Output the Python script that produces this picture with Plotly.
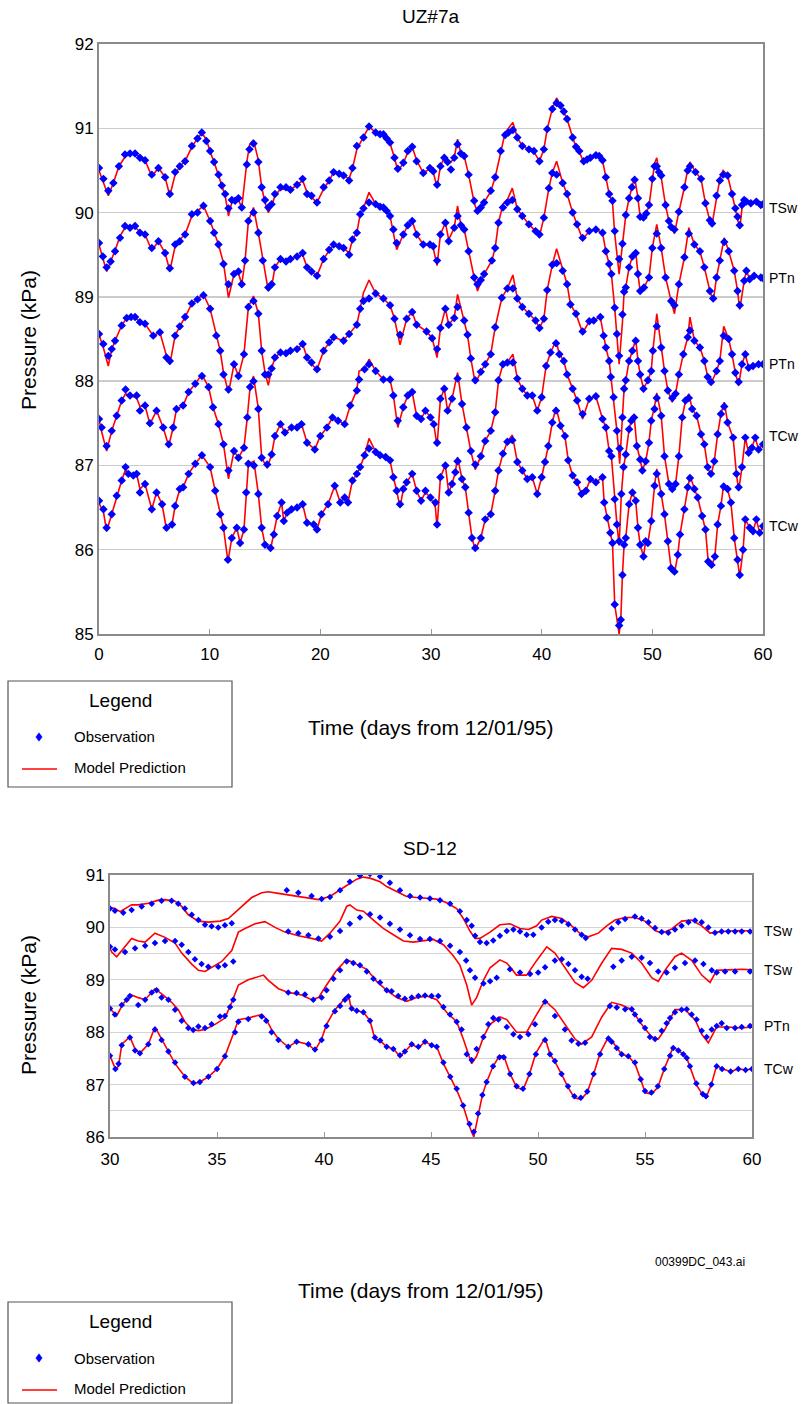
import plotly.graph_objects as go

W, H = 811, 1404
FONT = "Liberation Sans, Arial, sans-serif"

# ================= UZ#7a (top chart) =================
uz_tsw_t = [0.0,0.4,0.84,1.3,1.8,2.35,2.8,3.26,3.7,4.16,4.77,5.37,5.97,6.4,6.88,7.3,7.78,8.39,8.9,9.29,9.7,10.04,10.4,10.8,11.1,11.4,11.7,12.0,12.3,12.6,12.9,13.36,13.6,13.96,14.4,14.7,15.0,15.3,15.6,15.9,16.4,16.9,17.3,17.9,18.4,18.8,19.2,19.7,20.3,20.8,21.2,21.7,22.1,22.6,22.9,23.3,23.9,24.4,25.0,25.4,25.7,26.0,26.3,26.7,27.0,27.5,27.9,28.3,28.7,29.3,29.9,30.2,30.55,30.85,31.2,31.5,31.8,32.1,32.4,32.7,33.0,33.4,33.9,34.2,34.5,34.8,35.4,35.8,36.3,36.7,37.0,37.4,37.8,38.25,38.85,39.3,39.8,40.2,40.5,40.96,41.35,41.7,42.0,42.3,42.8,43.1,43.4,43.8,44.1,44.4,44.9,45.2,45.5,45.8,46.1,46.4,46.6,47.0,47.3,47.6,47.9,48.15,48.4,48.7,48.9,49.2,49.45,49.7,50.0,50.2,50.4,50.6,50.8,51.2,51.5,51.7,52.0,52.4,52.9,53.2,53.4,53.9,54.4,54.8,55.2,55.4,55.8,56.1,56.4,56.8,57.2,57.5,57.7,57.9,58.1,58.3,58.5,58.9,59.4,59.8,60.0]
uz_tsw_obs = [90.53,90.4,90.26,90.35,90.55,90.69,90.7,90.7,90.65,90.62,90.45,90.53,90.42,90.22,90.48,90.55,90.61,90.79,90.88,90.95,90.85,90.73,90.6,90.45,90.32,90.22,90.05,90.15,90.14,90.17,90.06,90.57,90.75,90.82,90.6,90.3,90.15,90.06,90.1,90.22,90.3,90.3,90.27,90.33,90.4,90.22,90.2,90.12,90.3,90.38,90.48,90.46,90.44,90.38,90.53,90.79,90.89,91.02,90.95,90.93,90.93,90.88,90.83,90.65,90.52,90.59,90.73,90.78,90.61,90.47,90.53,90.49,90.33,90.55,90.65,90.6,90.51,90.65,90.81,90.7,90.67,90.45,90.14,90.02,90.06,90.12,90.26,90.42,90.73,90.92,90.95,90.98,90.89,90.79,90.75,90.73,90.61,90.75,90.99,91.23,91.3,91.27,91.2,91.11,90.89,90.78,90.73,90.61,90.63,90.65,90.68,90.67,90.62,90.42,90.22,90.14,89.78,89.45,89.63,89.97,90.17,90.3,90.39,90.17,89.95,89.94,89.99,90.09,90.4,90.55,90.55,90.48,90.44,90.09,89.9,89.83,89.8,90.01,90.3,90.5,90.55,90.48,90.4,90.11,89.91,89.87,90.2,90.38,90.45,90.44,90.22,90.05,89.95,89.85,90.09,90.15,90.13,90.11,90.13,90.09,90.1]
uz_tsw_mod = [90.5,90.35,90.2,90.35,90.55,90.66,90.7,90.7,90.66,90.62,90.43,90.53,90.42,90.2,90.45,90.55,90.61,90.78,90.88,90.94,90.87,90.72,90.6,90.45,90.32,90.2,89.96,90.12,90.14,90.15,90.06,90.6,90.8,90.86,90.62,90.3,90.12,90.0,90.08,90.2,90.28,90.27,90.27,90.33,90.38,90.24,90.18,90.12,90.28,90.38,90.48,90.45,90.44,90.4,90.52,90.75,90.9,91.02,90.95,90.92,90.93,90.88,90.82,90.65,90.5,90.58,90.72,90.78,90.62,90.47,90.52,90.48,90.3,90.55,90.65,90.58,90.6,90.65,90.87,90.7,90.67,90.45,90.12,90.0,90.05,90.12,90.25,90.42,90.73,90.95,91.0,91.07,90.89,90.79,90.75,90.72,90.61,90.75,90.99,91.23,91.36,91.27,91.2,91.11,90.89,90.78,90.72,90.6,90.63,90.65,90.68,90.67,90.62,90.42,90.22,90.12,89.75,89.27,89.65,89.97,90.17,90.3,90.42,90.17,89.95,89.94,89.99,90.08,90.38,90.58,90.65,90.5,90.42,90.08,89.9,89.83,89.75,90.01,90.3,90.52,90.6,90.48,90.4,90.11,89.9,89.86,90.2,90.4,90.5,90.44,90.22,90.05,89.92,89.81,90.05,90.18,90.12,90.11,90.13,90.09,90.1]

uz_ptn1_t = [0.0,0.35,0.69,1.05,1.45,1.9,2.35,2.8,3.26,3.7,4.16,4.77,5.37,5.97,6.4,6.88,7.3,7.78,8.39,8.9,9.44,10.04,10.4,10.8,11.25,11.7,12.2,12.6,12.9,13.2,13.5,13.96,14.4,14.8,15.3,15.6,15.9,16.4,16.9,17.3,17.9,18.4,18.8,19.2,19.7,20.3,20.8,21.2,21.7,22.1,22.6,22.9,23.3,23.6,23.9,24.4,25.0,25.4,25.7,26.0,26.3,26.6,26.9,27.5,27.9,28.3,28.7,29.3,29.9,30.2,30.55,30.85,31.3,31.6,32.1,32.4,32.7,33.0,33.4,33.9,34.2,34.5,34.8,35.5,35.8,36.1,36.5,36.9,37.35,37.8,38.25,38.85,39.45,39.8,40.2,40.65,40.96,41.35,41.9,42.3,42.8,43.2,43.7,44.3,44.9,45.5,45.8,46.1,46.3,46.6,46.8,47.0,47.3,47.45,47.6,47.9,48.2,48.5,48.7,48.9,49.25,49.7,50.0,50.4,50.8,51.2,51.7,52.0,52.4,52.9,53.3,53.8,54.3,54.7,55.2,55.5,55.8,56.1,56.5,56.9,57.4,57.7,57.9,58.3,58.5,58.8,59.2,59.8,60.0]
uz_ptn1_obs = [89.64,89.48,89.35,89.42,89.54,89.7,89.84,89.82,89.84,89.76,89.74,89.58,89.66,89.52,89.34,89.62,89.66,89.74,89.98,90.0,90.08,89.9,89.76,89.62,89.39,89.15,89.27,89.3,89.15,89.43,89.9,90.0,89.76,89.43,89.11,89.15,89.35,89.45,89.42,89.45,89.48,89.52,89.35,89.3,89.25,89.45,89.56,89.62,89.6,89.58,89.5,89.68,89.76,89.98,90.05,90.12,90.1,90.07,90.06,90.02,89.96,89.8,89.64,89.74,89.85,89.9,89.74,89.62,89.62,89.6,89.43,89.74,89.88,89.66,89.82,89.96,89.85,89.8,89.54,89.23,89.15,89.2,89.27,89.43,89.58,89.88,90.06,90.12,90.15,90.04,89.96,89.86,89.78,89.74,89.94,90.29,90.47,90.45,90.35,90.22,90.0,89.86,89.7,89.78,89.8,89.76,89.54,89.39,89.27,88.87,88.56,88.3,88.79,89.06,89.11,89.35,89.48,89.52,89.27,89.07,89.11,89.23,89.58,89.75,89.58,89.23,88.95,88.9,89.15,89.47,89.75,89.62,89.54,89.35,89.07,88.98,89.23,89.43,89.65,89.54,89.31,89.07,88.9,89.19,89.31,89.21,89.25,89.23,89.22]
uz_ptn1_mod = [89.62,89.45,89.3,89.42,89.55,89.72,89.82,89.84,89.83,89.77,89.74,89.55,89.66,89.52,89.31,89.6,89.68,89.74,89.96,90.02,90.08,89.9,89.76,89.62,89.4,88.99,89.27,89.28,89.15,89.43,89.9,90.06,89.76,89.43,89.07,89.12,89.35,89.45,89.4,89.45,89.48,89.5,89.35,89.3,89.25,89.45,89.55,89.62,89.6,89.58,89.52,89.68,89.76,89.98,90.05,90.24,90.1,90.07,90.06,90.02,89.96,89.78,89.56,89.74,89.85,89.9,89.74,89.62,89.62,89.58,89.37,89.74,89.88,89.68,89.82,90.08,89.85,89.8,89.54,89.23,89.07,89.18,89.27,89.43,89.58,89.88,90.1,90.15,90.29,90.04,89.96,89.86,89.78,89.72,89.94,90.29,90.47,90.61,90.35,90.22,90.0,89.86,89.68,89.78,89.8,89.76,89.54,89.39,89.27,88.87,88.5,88.2,88.7,89.06,89.11,89.35,89.48,89.54,89.27,89.07,89.11,89.23,89.58,89.86,89.58,89.23,88.95,88.8,89.15,89.47,89.82,89.62,89.54,89.35,89.07,88.95,89.23,89.43,89.7,89.54,89.31,89.07,88.85,89.19,89.31,89.21,89.25,89.23,89.22]

uz_ptn2_t = [0.0,0.39,0.84,1.15,1.45,2.05,2.5,2.9,3.26,3.7,4.16,4.9,5.5,6.1,6.4,6.88,7.3,7.78,8.39,8.9,9.44,10.04,10.6,10.95,11.25,11.7,12.2,12.6,13.1,13.5,13.96,14.4,14.7,15.0,15.3,15.6,15.9,16.4,16.9,17.3,17.9,18.4,18.8,19.2,19.7,20.3,20.8,21.2,22.1,22.6,23.3,23.6,23.9,24.4,25.0,25.7,26.3,26.7,27.2,27.8,28.3,28.7,29.6,30.1,30.55,30.85,31.3,31.6,32.1,32.4,33.0,33.3,33.6,34.0,34.5,34.9,35.4,35.8,36.4,36.9,37.4,37.8,38.25,38.85,39.45,39.8,40.2,40.5,40.96,41.35,41.9,42.3,42.6,43.1,43.7,44.3,44.7,45.3,45.6,45.8,46.1,46.25,46.5,46.8,47.05,47.3,47.45,47.6,47.9,48.2,48.5,48.7,48.9,49.2,49.6,49.9,50.05,50.4,50.8,51.1,51.4,51.8,52.1,52.4,52.8,53.2,53.4,53.8,54.3,54.7,55.0,55.3,55.8,56.1,56.45,56.9,57.2,57.5,57.8,58.1,58.4,58.7,59.1,59.6,60.0]
uz_ptn2_obs = [88.56,88.44,88.3,88.38,88.48,88.66,88.75,88.76,88.76,88.7,88.68,88.54,88.58,88.28,88.24,88.54,88.65,88.76,88.92,88.97,89.02,88.86,88.54,88.36,88.08,87.9,88.2,88.06,88.32,88.88,88.95,88.8,88.36,88.08,88.08,88.15,88.28,88.34,88.33,88.36,88.38,88.44,88.28,88.22,88.14,88.36,88.46,88.52,88.48,88.56,88.67,88.86,88.95,88.98,89.04,88.98,88.9,88.74,88.55,88.74,88.82,88.67,88.59,88.51,88.38,88.63,88.86,88.67,88.75,88.88,88.72,88.55,88.27,88.01,88.11,88.2,88.32,88.64,88.99,89.1,89.1,88.98,88.88,88.8,88.72,88.63,88.74,89.08,89.38,89.4,89.31,89.15,88.91,88.8,88.59,88.71,88.72,88.76,88.54,88.4,88.24,88.05,87.81,87.41,87.2,87.57,87.91,88.01,88.24,88.36,88.48,88.24,88.08,87.91,88.01,88.12,88.36,88.65,88.4,88.12,87.89,87.8,87.85,88.08,88.32,88.52,88.6,88.48,88.4,88.24,88.05,87.99,88.12,88.24,88.54,88.5,88.32,88.1,87.99,88.2,88.32,88.16,88.18,88.2,88.2]
uz_ptn2_mod = [88.55,88.4,88.18,88.38,88.48,88.66,88.75,88.74,88.76,88.7,88.68,88.54,88.58,88.3,88.2,88.54,88.65,88.76,88.92,88.97,89.03,88.86,88.54,88.36,88.1,87.86,88.2,88.06,88.32,88.88,89.01,88.8,88.36,88.1,87.95,88.15,88.28,88.34,88.33,88.36,88.38,88.44,88.28,88.2,88.14,88.36,88.46,88.52,88.48,88.56,88.67,88.86,89.05,89.2,89.04,88.98,88.9,88.74,88.43,88.74,88.82,88.67,88.59,88.51,88.28,88.63,88.86,88.67,88.75,89.03,88.72,88.55,88.27,87.97,88.11,88.2,88.32,88.64,88.99,89.1,89.26,88.98,88.88,88.8,88.72,88.63,88.74,89.08,89.38,89.57,89.31,89.15,88.91,88.8,88.57,88.71,88.72,88.76,88.54,88.4,88.24,88.05,87.81,87.41,87.02,87.57,87.91,88.01,88.24,88.36,88.5,88.24,88.08,87.91,88.01,88.12,88.36,88.8,88.4,88.12,87.89,87.75,87.85,88.08,88.32,88.52,88.76,88.48,88.4,88.24,88.05,87.97,88.12,88.24,88.65,88.5,88.32,88.1,87.95,88.2,88.32,88.16,88.18,88.2,88.2]

uz_tcw1_t = [0.0,0.24,0.69,1.15,1.6,2.05,2.4,2.8,3.4,3.7,4.16,4.6,5.2,5.8,6.3,6.7,7.0,7.6,8.1,8.7,9.3,9.9,10.3,10.8,11.25,11.7,12.2,12.6,13.1,13.4,13.65,13.96,14.4,14.7,15.2,15.6,15.9,16.4,16.8,17.4,17.9,18.3,18.8,19.5,20.0,20.6,21.1,21.6,22.2,22.7,23.3,23.5,24.0,24.4,25.0,25.7,26.3,26.6,27.0,27.5,27.9,28.3,28.7,29.1,29.5,29.95,30.25,30.55,30.85,31.2,31.5,31.9,32.4,32.8,33.2,33.6,34.0,34.5,34.9,35.4,35.8,36.1,36.5,36.9,37.4,37.8,38.25,38.7,39.15,39.6,40.0,40.4,40.8,41.3,41.6,42.0,42.3,42.8,43.2,43.7,44.3,44.9,45.5,45.8,46.1,46.3,46.6,46.8,47.0,47.2,47.4,47.6,47.9,48.1,48.35,48.6,48.9,49.1,49.4,49.7,49.9,50.2,50.4,50.8,51.1,51.5,51.8,52.1,52.4,52.7,53.0,53.3,53.6,54.0,54.4,54.7,55.0,55.3,55.6,55.9,56.2,56.5,56.8,57.3,57.6,57.8,58.1,58.4,58.7,59.0,59.3,59.6,60.0]
uz_tcw1_obs = [87.55,87.45,87.23,87.41,87.59,87.77,87.9,87.83,87.83,87.65,87.71,87.5,87.65,87.45,87.25,87.45,87.67,87.71,87.87,87.97,88.06,87.93,87.69,87.49,87.25,86.94,87.17,87.09,87.21,87.57,87.93,88.0,87.67,87.09,87.01,87.13,87.35,87.49,87.39,87.45,87.45,87.49,87.27,87.19,87.35,87.45,87.57,87.53,87.49,87.71,87.89,88.02,88.14,88.2,88.12,88.02,88.02,87.83,87.53,87.69,87.83,87.87,87.59,87.55,87.65,87.57,87.49,87.27,87.79,87.91,87.65,87.79,88.03,87.73,87.45,87.17,87.01,87.11,87.29,87.41,87.63,88.01,88.2,88.22,88.22,88.03,87.91,87.83,87.83,87.65,87.81,88.18,88.34,88.45,88.32,88.24,88.08,87.91,87.77,87.61,87.79,87.82,87.55,87.45,87.17,87.11,86.6,86.3,86.1,86.66,86.98,87.13,87.43,87.53,87.57,87.23,87.07,86.94,87.05,87.27,87.53,87.67,87.8,87.59,87.11,86.78,86.72,86.78,87.11,87.57,87.77,87.8,87.67,87.59,87.37,87.25,86.98,86.9,87.05,87.37,87.61,87.7,87.51,87.33,86.9,86.74,86.98,87.33,87.15,87.21,87.33,87.19,87.25]
uz_tcw1_mod = [87.55,87.4,87.17,87.41,87.59,87.77,87.85,87.83,87.8,87.7,87.71,87.49,87.65,87.45,87.23,87.45,87.67,87.71,87.87,87.97,88.08,87.93,87.69,87.49,87.25,86.84,87.17,87.09,87.21,87.57,87.93,88.06,87.67,87.09,86.97,87.13,87.35,87.49,87.39,87.45,87.45,87.49,87.27,87.19,87.35,87.45,87.57,87.53,87.49,87.71,87.89,88.12,88.14,88.26,88.12,88.02,88.02,87.83,87.45,87.69,87.83,87.87,87.59,87.55,87.65,87.57,87.49,87.23,87.79,87.91,87.65,87.79,88.1,87.73,87.45,87.17,86.95,87.11,87.29,87.41,87.63,88.01,88.2,88.22,88.32,88.03,87.91,87.83,87.83,87.65,87.81,88.18,88.34,88.48,88.32,88.24,88.08,87.91,87.77,87.55,87.79,87.82,87.55,87.45,87.17,87.11,86.6,86.3,86.05,86.66,86.98,87.13,87.43,87.53,87.6,87.23,87.07,86.94,87.05,87.27,87.53,87.7,87.86,87.59,87.11,86.78,86.7,86.78,87.11,87.57,87.77,87.85,87.67,87.59,87.37,87.25,86.98,86.88,87.05,87.37,87.61,87.75,87.51,87.33,86.9,86.7,86.98,87.33,87.15,87.21,87.33,87.19,87.25]

uz_tcw2_t = [0.0,0.4,0.69,1.15,1.6,2.05,2.4,2.65,3.1,3.4,3.7,4.16,4.77,5.2,5.7,6.1,6.6,6.88,7.3,7.6,8.1,8.7,9.3,10.04,10.5,10.95,11.25,11.65,12.0,12.45,12.75,13.1,13.3,13.5,14.0,14.4,14.7,15.0,15.5,15.8,16.1,16.5,16.7,17.0,17.4,17.9,18.4,18.8,19.4,19.7,20.1,20.7,21.3,21.8,22.2,22.5,22.9,23.3,23.6,24.0,24.4,25.0,25.4,25.9,26.3,26.6,26.9,27.2,27.5,27.8,28.3,28.7,29.1,29.5,29.95,30.4,30.55,30.85,31.3,31.6,31.9,32.2,32.4,32.8,33.1,33.4,33.7,34.0,34.5,34.9,35.4,35.8,36.1,36.5,36.9,37.35,37.8,38.25,38.7,39.15,39.6,40.0,40.3,40.6,40.96,41.3,41.7,42.1,42.4,42.8,43.2,43.6,44.0,44.4,44.9,45.5,45.65,45.9,46.2,46.4,46.6,47.0,47.15,47.3,47.45,47.6,47.9,48.2,48.5,48.7,48.9,49.2,49.4,49.6,49.9,50.2,50.4,50.8,51.1,51.4,51.7,52.0,52.3,52.5,52.9,53.2,53.4,53.8,54.1,54.5,54.8,55.05,55.35,55.65,55.9,56.2,56.45,56.8,57.1,57.4,57.7,57.9,58.2,58.4,58.8,59.1,59.4,59.7,60.0]
uz_tcw2_obs = [86.58,86.48,86.26,86.42,86.64,86.82,86.98,86.9,86.88,86.9,86.68,86.78,86.48,86.68,86.54,86.26,86.3,86.52,86.72,86.74,86.9,87.02,87.12,86.98,86.7,86.42,86.26,85.88,86.14,86.26,86.08,86.24,86.68,87.02,87.0,86.66,86.26,86.06,86.02,86.18,86.4,86.56,86.34,86.44,86.48,86.5,86.54,86.32,86.3,86.24,86.42,86.54,86.76,86.56,86.62,86.56,86.82,86.9,86.98,87.12,87.2,87.16,87.12,87.1,87.06,86.86,86.7,86.54,86.72,86.8,86.9,86.7,86.58,86.7,86.62,86.56,86.3,86.86,87.0,86.68,86.78,86.92,87.05,86.84,86.74,86.44,86.14,86.02,86.14,86.36,86.42,86.7,86.94,87.14,87.28,87.3,87.04,86.94,86.84,86.86,86.66,86.86,87.04,87.23,87.51,87.65,87.47,87.35,87.06,86.88,86.8,86.66,86.7,86.84,86.8,86.86,86.56,86.38,86.2,86.08,85.35,85.1,85.17,85.7,86.06,86.14,86.54,86.68,86.58,86.26,86.06,85.92,86.1,86.08,86.34,86.76,86.9,86.66,86.42,86.1,85.78,85.74,85.94,86.18,86.48,86.74,86.85,86.72,86.62,86.4,86.24,85.86,85.82,85.92,86.3,86.52,86.75,86.72,86.56,86.14,85.88,85.7,86.0,86.36,86.26,86.22,86.36,86.2,86.28]
uz_tcw2_mod = [86.55,86.45,86.22,86.42,86.64,86.82,86.95,86.9,86.88,86.9,86.72,86.78,86.48,86.68,86.54,86.24,86.3,86.52,86.72,86.74,86.9,87.02,87.12,86.98,86.7,86.42,86.26,85.86,86.14,86.26,86.08,86.24,86.68,87.02,87.05,86.66,86.26,86.06,86.0,86.18,86.4,86.56,86.34,86.44,86.48,86.5,86.54,86.32,86.3,86.24,86.42,86.54,86.76,86.56,86.62,86.56,86.82,86.9,86.98,87.12,87.32,87.16,87.12,87.1,87.06,86.86,86.7,86.5,86.72,86.8,86.9,86.7,86.58,86.68,86.62,86.5,86.26,86.86,87.0,86.68,86.78,86.92,87.1,86.84,86.74,86.44,86.14,86.0,86.14,86.36,86.42,86.7,86.94,87.14,87.28,87.36,87.04,86.94,86.84,86.86,86.66,86.86,87.04,87.23,87.51,87.69,87.47,87.35,87.06,86.88,86.8,86.66,86.7,86.84,86.8,86.86,86.56,86.38,86.2,86.08,85.35,85.0,85.17,85.7,86.06,86.14,86.54,86.68,86.58,86.26,86.06,85.92,86.1,86.08,86.34,86.76,86.96,86.66,86.42,86.1,85.78,85.72,85.94,86.18,86.48,86.74,86.88,86.72,86.62,86.4,86.24,85.86,85.8,85.92,86.3,86.52,86.78,86.72,86.56,86.14,85.88,85.68,86.0,86.36,86.26,86.22,86.36,86.2,86.28]

uz_series_labels = ["TSw", "PTn", "PTn", "TCw", "TCw"]
uz_label_y = [90.05, 89.22, 88.2, 87.35, 86.28]

# ================= SD-12 (bottom chart) =================
sd_tsw1_mod_t = [30.0,30.23,30.47,31.01,31.32,31.79,32.26,32.57,33.04,33.35,33.66,34.13,34.59,35.14,35.53,35.84,36.15,36.62,37.09,37.4,37.87,38.49,39.11,39.74,40.28,40.59,41.06,41.53,41.84,42.15,42.62,42.93,43.4,43.86,44.33,44.8,45.27,45.73,46.2,46.51,46.82,47.06,47.29,47.76,48.22,48.69,49.16,49.55,49.94,50.17,50.64,51.11,51.57,52.04,52.35,52.82,53.21,53.6,54.07,54.53,55.0,55.47,55.78,56.25,56.71,57.18,57.65,58.04,58.35,58.89,59.52,60.0]
sd_tsw1_mod = [90.38,90.36,90.3,90.43,90.43,90.46,90.52,90.53,90.5,90.4,90.24,90.12,90.1,90.12,90.17,90.28,90.4,90.57,90.66,90.68,90.65,90.61,90.57,90.53,90.59,90.68,90.8,90.92,90.96,90.94,90.87,90.78,90.68,90.59,90.57,90.55,90.54,90.47,90.36,90.17,89.93,89.79,89.79,89.91,90.05,90.07,89.98,89.96,90.03,90.14,90.21,90.17,90.03,89.86,89.82,89.89,90.03,90.14,90.19,90.19,90.12,89.94,89.89,89.97,90.12,90.14,90.03,89.89,89.91,89.93,89.94,89.93]
sd_tsw1_obs_t = [30.0,30.23,30.62,31.01,31.48,31.95,32.41,32.88,33.19,33.5,33.82,34.13,34.44,34.75,35.06,35.37,35.69,38.26,38.8,39.42,39.89,40.28,40.75,41.21,41.68,42.15,42.62,43.08,43.55,44.02,44.49,44.95,45.42,45.89,46.35,46.67,46.9,47.06,47.29,47.6,47.91,48.22,48.54,48.85,49.16,49.47,49.78,50.17,50.48,50.79,51.11,51.42,51.73,52.04,52.23,53.44,53.75,54.07,54.53,54.84,55.16,55.47,55.78,56.09,56.4,56.71,57.03,57.34,57.65,57.96,58.27,58.58,58.89,59.21,59.52,59.91]
sd_tsw1_obs = [90.36,90.32,90.28,90.33,90.4,90.45,90.51,90.51,90.45,90.36,90.24,90.14,90.05,90.02,90.0,90.04,90.08,90.71,90.66,90.6,90.54,90.58,90.71,90.87,90.99,91.02,90.97,90.85,90.71,90.6,90.57,90.55,90.52,90.45,90.31,90.14,90.03,89.84,89.72,89.7,89.75,89.84,89.93,89.96,89.92,89.86,89.86,90.0,90.11,90.14,90.12,90.06,89.96,89.86,89.8,89.98,90.1,90.16,90.21,90.17,90.1,89.99,89.91,89.9,89.96,90.03,90.1,90.13,90.1,90.0,89.9,89.92,89.92,89.92,89.92,89.92]

sd_tsw2_mod_t = [30.0,30.08,30.31,30.62,31.01,31.32,31.64,32.1,32.57,33.04,33.35,33.82,34.13,34.44,34.75,35.22,35.69,36.0,36.31,36.78,37.24,37.71,38.18,38.8,39.42,39.89,40.28,40.75,41.06,41.21,41.53,41.84,42.31,42.77,43.24,43.71,44.17,44.64,45.11,45.58,46.04,46.35,46.67,46.9,47.13,47.45,47.76,48.22,48.54,49.0,49.47,49.94,50.41,50.79,51.26,51.73,52.12,52.51,52.98,53.44,53.91,54.38,54.84,55.31,55.62,55.93,56.4,56.71,57.18,57.65,58.04,58.35,58.89,59.52,60.0]
sd_tsw2_mod = [89.6,89.53,89.44,89.6,89.79,89.74,89.72,89.89,89.81,89.7,89.51,89.3,89.18,89.16,89.23,89.35,89.56,89.91,89.98,90.07,90.11,90.0,89.91,89.84,89.79,89.74,89.89,90.12,90.4,90.43,90.33,90.31,90.14,89.98,89.86,89.74,89.72,89.75,89.77,89.67,89.46,89.28,88.9,88.52,88.66,88.99,89.23,89.38,89.32,89.09,89.09,89.37,89.63,89.51,89.23,88.95,88.85,88.99,89.32,89.6,89.58,89.51,89.32,89.04,88.97,89.18,89.44,89.51,89.37,89.09,88.95,89.18,89.19,89.2,89.19]
sd_tsw2_obs_t = [30.0,30.23,30.7,31.17,31.64,32.1,32.57,33.04,33.35,33.66,33.97,34.28,34.59,35.06,35.37,35.76,38.33,38.8,39.27,39.74,40.28,40.75,41.21,41.68,42.15,42.62,43.08,43.55,44.02,44.49,44.95,45.42,45.89,46.35,46.64,46.82,47.06,47.45,47.76,48.07,48.69,49.16,49.63,50.01,50.33,50.79,51.11,51.42,51.73,52.04,52.32,53.52,53.91,54.38,54.84,55.23,55.62,56.01,56.4,56.87,57.34,57.73,58.12,58.35,58.74,59.21,59.91]
sd_tsw2_obs = [89.63,89.58,89.53,89.6,89.65,89.7,89.74,89.74,89.67,89.53,89.39,89.3,89.25,89.25,89.28,89.35,89.92,89.89,89.85,89.79,89.82,89.93,90.07,90.19,90.25,90.19,90.07,89.96,89.85,89.78,89.78,89.74,89.65,89.53,89.37,89.18,89.04,88.93,88.97,89.04,89.2,89.14,89.11,89.14,89.24,89.37,89.39,89.3,89.18,89.06,89.02,89.25,89.37,89.44,89.42,89.32,89.16,89.14,89.23,89.32,89.37,89.3,89.18,89.14,89.16,89.16,89.16]

sd_ptn_mod_t = [30.0,30.31,30.62,31.01,31.32,31.64,32.1,32.49,32.88,33.19,33.5,33.82,34.13,34.44,34.91,35.37,35.69,36.0,36.46,36.93,37.17,37.4,37.87,38.33,38.96,39.42,39.74,40.12,40.59,41.06,41.53,42.0,42.46,42.93,43.4,43.86,44.33,44.8,45.27,45.73,46.2,46.51,46.9,47.13,47.45,47.76,48.22,48.54,49.0,49.47,49.94,50.33,50.79,51.26,51.73,52.04,52.51,52.98,53.44,53.91,54.38,54.84,55.31,55.62,55.93,56.4,56.87,57.34,57.65,57.96,58.35,58.89,59.52,60.0]
sd_ptn_mod = [88.45,88.31,88.55,88.71,88.66,88.62,88.83,88.71,88.57,88.43,88.2,88.05,88.03,88.05,88.15,88.27,88.57,88.9,89.0,89.06,89.09,88.99,88.83,88.76,88.71,88.62,88.66,88.9,89.18,89.39,89.3,89.2,88.97,88.8,88.66,88.59,88.66,88.69,88.62,88.38,88.2,87.87,87.4,87.54,87.91,88.15,88.29,88.24,88.0,88.0,88.34,88.6,88.43,88.15,87.87,87.77,87.91,88.29,88.57,88.52,88.43,88.15,87.91,87.87,88.05,88.43,88.43,88.24,87.96,87.8,88.1,88.1,88.08,88.1]
sd_ptn_obs_t = [30.0,30.23,30.55,30.78,30.93,31.32,31.64,31.95,32.18,32.41,32.73,33.04,33.35,33.66,33.89,34.13,34.44,34.75,35.14,35.37,35.61,35.76,38.33,38.72,39.11,39.5,39.89,40.12,40.44,40.75,41.06,41.37,41.68,42.0,42.31,42.62,42.93,43.16,43.47,43.78,44.1,44.41,44.72,45.03,45.34,45.58,45.89,46.2,46.43,46.67,46.9,47.13,47.45,47.68,47.91,48.15,48.54,48.85,49.16,49.55,49.86,50.33,50.79,51.26,51.57,51.89,52.2,53.36,53.68,54.07,54.38,54.53,54.77,55.0,55.23,55.47,55.78,56.01,56.17,56.4,56.71,56.95,57.18,57.41,57.65,57.88,58.12,58.35,58.58,58.82,59.21,59.52,59.91]
sd_ptn_obs = [88.45,88.34,88.52,88.62,88.69,88.52,88.62,88.76,88.8,88.66,88.62,88.43,88.22,88.08,88.04,88.11,88.08,88.15,88.3,88.31,88.48,88.62,88.76,88.75,88.72,88.62,88.66,88.8,89.02,89.18,89.35,89.32,89.28,89.16,89.02,88.95,88.8,88.78,88.69,88.64,88.66,88.69,88.7,88.69,88.69,88.48,88.34,88.2,88.05,87.58,87.47,87.68,87.91,88.15,88.27,88.24,88.1,87.96,87.91,87.96,88.15,88.58,88.31,88.05,87.84,87.78,87.8,88.5,88.47,88.44,88.44,88.34,88.22,88.08,87.91,87.87,88.03,88.17,88.27,88.38,88.43,88.44,88.34,88.24,88.03,87.91,88.05,88.12,88.17,88.08,88.08,88.1,88.12]

sd_tcw_t = [30.0,30.25,30.4,30.55,30.93,31.17,31.4,31.79,32.1,32.41,32.73,33.04,33.5,33.9,34.2,34.6,35.0,35.37,35.84,36.0,36.46,37.09,37.3,37.55,37.87,38.33,38.72,39.27,39.58,39.89,40.12,40.51,40.75,40.98,41.14,41.29,41.53,41.84,42.15,42.38,42.62,42.93,43.24,43.55,43.78,44.1,44.41,44.72,45.03,45.27,45.58,45.9,46.2,46.5,46.8,47.0,47.2,47.4,47.6,47.9,48.2,48.4,48.7,49.0,49.3,49.6,49.9,50.33,50.56,50.79,51.1,51.4,51.7,52.0,52.3,52.6,52.9,53.29,53.44,53.68,53.91,54.22,54.53,54.8,55.0,55.3,55.6,55.9,56.17,56.32,56.56,56.79,56.95,57.1,57.4,57.7,57.85,58.1,58.35,58.6,59.0,59.36,59.7,60.0]
sd_tcw_mod = [87.55,87.3,87.35,87.77,87.91,87.68,87.6,87.77,88.1,87.87,87.63,87.4,87.15,87.02,87.05,87.15,87.3,87.54,88.05,88.24,88.27,88.34,88.25,88.05,87.87,87.72,87.82,87.77,87.65,87.87,88.15,88.43,88.53,88.66,88.71,88.43,88.41,88.38,88.22,87.87,87.84,87.72,87.68,87.54,87.63,87.77,87.7,87.82,87.75,87.72,87.4,87.15,86.9,86.6,86.2,86.0,86.4,86.8,87.05,87.35,87.55,87.55,87.2,86.95,86.9,87.2,87.6,87.89,87.58,87.44,87.2,86.95,86.75,86.72,86.85,87.2,87.6,87.91,87.84,87.7,87.58,87.54,87.4,87.1,86.85,86.82,86.95,87.3,87.58,87.72,87.65,87.58,87.51,87.33,87.0,86.8,86.75,87.0,87.37,87.3,87.25,87.3,87.28,87.3]
sd_tcw_obs = [87.55,87.3,87.4,87.75,87.9,87.65,87.6,87.77,88.05,87.85,87.63,87.42,87.15,87.03,87.05,87.15,87.3,87.54,88.0,88.2,88.25,88.3,88.22,88.0,87.85,87.72,87.82,87.77,87.67,87.85,88.12,88.4,88.5,88.62,88.68,88.45,88.41,88.38,88.22,87.9,87.84,87.72,87.68,87.56,87.63,87.77,87.72,87.82,87.75,87.72,87.42,87.15,86.92,86.6,86.25,86.1,86.45,86.8,87.05,87.35,87.52,87.52,87.2,86.97,86.92,87.2,87.58,87.85,87.58,87.45,87.2,86.97,86.78,86.75,86.87,87.2,87.58,87.88,87.82,87.7,87.58,87.54,87.42,87.1,86.88,86.85,86.97,87.3,87.55,87.7,87.65,87.58,87.51,87.35,87.02,86.82,86.78,87.0,87.35,87.3,87.25,87.3,87.28,87.3]

sd_series_labels = ["TSw", "TSw", "PTn", "TCw"]
sd_label_y = [89.93, 89.19, 88.12, 87.3]

# ================= layout helpers =================
def px(x):
    return x / W

def py(y):
    return 1 - y / H

TOP = dict(x0=99, x1=763, y0=44, y1=634)
BOT = dict(x0=110, x1=752, y0=875, y1=1137)

RED = "#ff0000"
BLUE = "#0000ff"

fig = go.Figure()

def add_pair(t_mod, y_mod, t_obs, y_obs, xa, ya, msize):
    fig.add_trace(go.Scatter(x=t_mod, y=y_mod, mode="lines", line=dict(color=RED, width=1.6),
                             xaxis=xa, yaxis=ya, showlegend=False, hoverinfo="skip"))
    fig.add_trace(go.Scatter(x=t_obs, y=y_obs, mode="markers",
                             marker=dict(symbol="diamond", size=msize, color=BLUE, line=dict(width=0)),
                             xaxis=xa, yaxis=ya, showlegend=False, hoverinfo="skip"))

add_pair(uz_tsw_t, uz_tsw_mod, uz_tsw_t, uz_tsw_obs, "x", "y", 6.5)
add_pair(uz_ptn1_t, uz_ptn1_mod, uz_ptn1_t, uz_ptn1_obs, "x", "y", 6.5)
add_pair(uz_ptn2_t, uz_ptn2_mod, uz_ptn2_t, uz_ptn2_obs, "x", "y", 6.5)
add_pair(uz_tcw1_t, uz_tcw1_mod, uz_tcw1_t, uz_tcw1_obs, "x", "y", 6.5)
add_pair(uz_tcw2_t, uz_tcw2_mod, uz_tcw2_t, uz_tcw2_obs, "x", "y", 6.5)

add_pair(sd_tsw1_mod_t, sd_tsw1_mod, sd_tsw1_obs_t, sd_tsw1_obs, "x2", "y2", 5)
add_pair(sd_tsw2_mod_t, sd_tsw2_mod, sd_tsw2_obs_t, sd_tsw2_obs, "x2", "y2", 5)
add_pair(sd_ptn_mod_t, sd_ptn_mod, sd_ptn_obs_t, sd_ptn_obs, "x2", "y2", 5)
add_pair(sd_tcw_t, sd_tcw_mod, sd_tcw_t, sd_tcw_obs, "x2", "y2", 5)

axis_common = dict(showline=True, linecolor="#8a8a8a", linewidth=2, mirror=True, zeroline=False,
                   automargin=False, tickfont=dict(family=FONT, size=17, color="black"))

fig.update_layout(
    template="none",
    width=W, height=H, margin=dict(l=0, r=0, t=0, b=0, pad=0), autosize=False,
    paper_bgcolor="white", plot_bgcolor="white",
    xaxis=dict(domain=[px(TOP["x0"]), px(TOP["x1"])], range=[0, 60], tickvals=list(range(0, 61, 10)),
               ticks="inside", ticklen=5, tickcolor="#999999", showgrid=False, anchor="y",
               ticklabelstandoff=4, **axis_common),
    yaxis=dict(domain=[py(TOP["y1"]), py(TOP["y0"])], range=[85, 92], tickvals=list(range(85, 93)),
               ticks="", showgrid=True, gridcolor="#cccccc", gridwidth=1.5, anchor="x", **axis_common),
    xaxis2=dict(domain=[px(BOT["x0"]), px(BOT["x1"])], range=[30, 60], tickvals=list(range(30, 61, 5)),
                ticks="inside", ticklen=5, tickcolor="#999999", showgrid=False, anchor="y2",
                ticklabelstandoff=6, **axis_common),
    yaxis2=dict(domain=[py(BOT["y1"]), py(BOT["y0"])], range=[86, 91],
                tickvals=[86, 86.5, 87, 87.5, 88, 88.5, 89, 89.5, 90, 90.5, 91],
                ticktext=["86", "", "87", "", "88", "", "89", "", "90", "", "91"],
                ticks="", showgrid=True, gridcolor="#d4d4d4", gridwidth=1.2, anchor="x2", **axis_common),
)

ann = []

def text(x, y, s, size, xanchor="center", angle=0):
    ann.append(dict(x=px(x), y=py(y), xref="paper", yref="paper", text=s, showarrow=False,
                    xanchor=xanchor, yanchor="middle", textangle=angle,
                    font=dict(family=FONT, size=size, color="black")))

# titles and axis titles
text(430, 16, "UZ#7a", 19)
text(430, 848, "SD-12", 19)
text(28, 340, "Pressure (kPa)", 21, angle=-90)
text(28, 1005, "Pressure (kPa)", 21, angle=-90)
text(430, 727, "Time (days from 12/01/95)", 21)
text(420, 1290, "Time (days from 12/01/95)", 21)
text(700, 1262, "00399DC_043.ai", 12)

# series labels at right
for lab, yv in zip(uz_series_labels, uz_label_y):
    ypix = TOP["y0"] + (92 - yv) / 7 * (TOP["y1"] - TOP["y0"])
    text(767, ypix, lab, 14, xanchor="left")
for lab, yv in zip(sd_series_labels, sd_label_y):
    ypix = BOT["y0"] + (91 - yv) / 5 * (BOT["y1"] - BOT["y0"])
    text(762, ypix, lab, 14, xanchor="left")

shapes = []

def legend_box(top, bottom):
    shapes.append(dict(type="rect", xref="paper", yref="paper", x0=px(8), x1=px(232), y0=py(bottom), y1=py(top),
                       line=dict(color="#555555", width=1.2), fillcolor="rgba(0,0,0,0)"))
    text(120, top + 19, "Legend", 19)
    oy = top + 56
    my = top + 86
    dx, dy = 3.2, 4.2
    path = "M {} {} L {} {} L {} {} L {} {} Z".format(px(39), py(oy - dy), px(39 + dx), py(oy), px(39), py(oy + dy), px(39 - dx), py(oy))
    shapes.append(dict(type="path", xref="paper", yref="paper", path=path, fillcolor=BLUE, line=dict(color=BLUE, width=0.5)))
    text(72, oy, "Observation", 15, xanchor="left")
    shapes.append(dict(type="line", xref="paper", yref="paper", x0=px(22), x1=px(57), y0=py(my + 2), y1=py(my + 2),
                       line=dict(color=RED, width=1.6)))
    text(72, my, "Model Prediction", 15, xanchor="left")

legend_box(681, 787)
legend_box(1302, 1403)

fig.update_layout(annotations=ann, shapes=shapes)
fig.write_html("out.html", config={"displayModeBar": False, "staticPlot": True},
               post_script="document.body.style.margin='0';document.body.style.overflow='hidden';")
